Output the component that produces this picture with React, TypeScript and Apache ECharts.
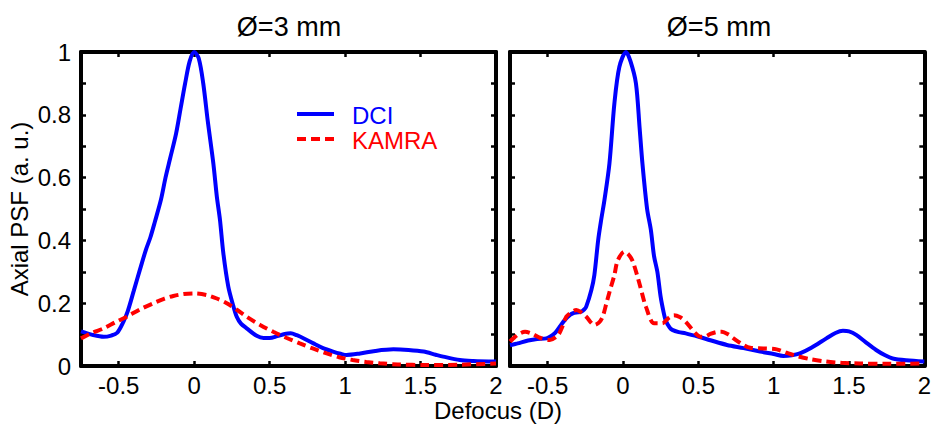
import React, { useEffect, useRef } from "react";
import * as echarts from "echarts";

const FONT = '"Liberation Sans", Arial, Helvetica, sans-serif';

const panelTitles = ["Ø=3 mm", "Ø=5 mm"];
const seriesNames = ["DCI", "KAMRA"];
const xTickValues = [-0.5, 0, 0.5, 1, 1.5, 2];
const yLabelValues = [0, 0.2, 0.4, 0.6, 0.8, 1];
const yTickValues = [0.1, 0.2, 0.3, 0.4, 0.5, 0.6, 0.7, 0.8, 0.9];
const xAxisName = "Defocus (D)";
const yAxisName = "Axial PSF (a. u.)";

// Ø=3 mm panel
const dci3 = [
  [-0.75, 0.11], [-0.68, 0.1], [-0.6, 0.093], [-0.55, 0.097], [-0.51, 0.106],
  [-0.47, 0.14], [-0.44, 0.175], [-0.4, 0.24], [-0.36, 0.306], [-0.32, 0.37],
  [-0.29, 0.41], [-0.26, 0.46], [-0.22, 0.53], [-0.19, 0.6], [-0.16, 0.66],
  [-0.12, 0.74], [-0.09, 0.82], [-0.06, 0.9], [-0.03, 0.97], [0, 1.0],
  [0.03, 0.98], [0.06, 0.9], [0.09, 0.78], [0.127, 0.645], [0.15, 0.54],
  [0.171, 0.465], [0.193, 0.36], [0.226, 0.253], [0.26, 0.19], [0.282, 0.157],
  [0.31, 0.135], [0.348, 0.12], [0.414, 0.096], [0.46, 0.089], [0.5, 0.089],
  [0.55, 0.095], [0.6, 0.102], [0.64, 0.104], [0.68, 0.098], [0.73, 0.087],
  [0.79, 0.072], [0.85, 0.058], [0.92, 0.046], [0.97, 0.039], [1.01, 0.035],
  [1.1, 0.04], [1.2, 0.048], [1.32, 0.053], [1.42, 0.051], [1.52, 0.046],
  [1.6, 0.036], [1.65, 0.03], [1.76, 0.019], [1.85, 0.016], [2.0, 0.014],
];
const kamra3 = [
  [-0.75, 0.088], [-0.68, 0.105], [-0.6, 0.12], [-0.52, 0.14], [-0.447, 0.157],
  [-0.36, 0.18], [-0.27, 0.2], [-0.2, 0.214], [-0.138, 0.223], [-0.07, 0.229],
  [0, 0.231], [0.083, 0.226], [0.15, 0.215], [0.216, 0.2], [0.28, 0.18],
  [0.348, 0.157], [0.44, 0.13], [0.524, 0.109], [0.61, 0.09], [0.7, 0.072],
  [0.79, 0.055], [0.878, 0.04], [0.96, 0.028], [1.05, 0.019], [1.14, 0.013],
  [1.23, 0.0085], [1.35, 0.005], [1.54, 0.003], [1.75, 0.004], [2.0, 0.008],
];

// Ø=5 mm panel
const dci5 = [
  [-0.75, 0.066], [-0.7, 0.072], [-0.63, 0.081], [-0.57, 0.086], [-0.508, 0.088],
  [-0.453, 0.104], [-0.42, 0.125], [-0.387, 0.146], [-0.35, 0.163], [-0.332, 0.168],
  [-0.3, 0.171], [-0.277, 0.173], [-0.258, 0.18], [-0.244, 0.189], [-0.21, 0.242],
  [-0.19, 0.29], [-0.165, 0.4], [-0.145, 0.465], [-0.123, 0.529], [-0.09, 0.645],
  [-0.057, 0.837], [-0.024, 0.953], [0.02, 1.0], [0.05, 0.97], [0.086, 0.9],
  [0.11, 0.76], [0.129, 0.645], [0.16, 0.5], [0.185, 0.433], [0.206, 0.35],
  [0.228, 0.3], [0.25, 0.22], [0.27, 0.17], [0.283, 0.146], [0.31, 0.122],
  [0.327, 0.115], [0.37, 0.108], [0.416, 0.104], [0.503, 0.093], [0.58, 0.082],
  [0.69, 0.067], [0.8, 0.057], [0.91, 0.046], [1.0, 0.038], [1.064, 0.032],
  [1.12, 0.034], [1.174, 0.04], [1.25, 0.058], [1.35, 0.088], [1.41, 0.105],
  [1.46, 0.112], [1.5, 0.11], [1.548, 0.099], [1.61, 0.076], [1.68, 0.051],
  [1.74, 0.034], [1.79, 0.024], [1.88, 0.018], [2.0, 0.014],
];
const kamra5 = [
  [-0.75, 0.078], [-0.728, 0.088], [-0.69, 0.102], [-0.65, 0.109], [-0.6, 0.102],
  [-0.552, 0.09], [-0.486, 0.083], [-0.43, 0.099], [-0.4, 0.128], [-0.376, 0.157],
  [-0.34, 0.172], [-0.31, 0.178], [-0.275, 0.17], [-0.244, 0.157], [-0.19, 0.131],
  [-0.16, 0.138], [-0.135, 0.157], [-0.11, 0.2], [-0.09, 0.235], [-0.057, 0.29],
  [-0.036, 0.335], [0.009, 0.364], [0.035, 0.356], [0.063, 0.335], [0.096, 0.285],
  [0.119, 0.245], [0.152, 0.189], [0.206, 0.136], [0.261, 0.136], [0.3, 0.152],
  [0.338, 0.162], [0.38, 0.155], [0.416, 0.141], [0.481, 0.104], [0.514, 0.093],
  [0.55, 0.095], [0.58, 0.102], [0.62, 0.108], [0.657, 0.109], [0.7, 0.1],
  [0.734, 0.088], [0.79, 0.07], [0.844, 0.058], [0.93, 0.056], [1.02, 0.053],
  [1.08, 0.043], [1.13, 0.035], [1.24, 0.022], [1.35, 0.014], [1.45, 0.01],
  [1.57, 0.008], [1.75, 0.007], [2.0, 0.008],
];

const BLUE = "#0000ff";
const RED = "#ff0000";

const grids = [
  { left: 81, top: 52, width: 415, height: 314 },
  { left: 510, top: 52, width: 417, height: 314 },
];

export default function App() {
  const ref = useRef<HTMLDivElement>(null);

  useEffect(() => {
    if (!ref.current) return;
    const chart = echarts.init(ref.current, null, { renderer: "svg" });

    const mkAxisLine = () => ({ show: true, onZero: false, lineStyle: { color: "#000", width: 4 } });
    const tickStyle = { color: "#000", width: 2.5 };

    const xAxes: any[] = [];
    const yAxes: any[] = [];
    [0, 1].forEach((g) => {
      ["bottom", "top"].forEach((pos) => {
        xAxes.push({
          gridIndex: g,
          type: "value",
          min: -0.75,
          max: 2,
          position: pos,
          axisLine: mkAxisLine(),
          splitLine: { show: false },
          axisTick: {
            show: true,
            inside: true,
            length: 5,
            lineStyle: tickStyle,
            customValues: xTickValues.slice(0, 5),
          },
          axisLabel: {
            show: pos === "bottom",
            customValues: xTickValues,
            fontSize: 24,
            fontFamily: FONT,
            color: "#000",
            margin: 7,
          },
        });
      });
      ["left", "right"].forEach((pos) => {
        yAxes.push({
          gridIndex: g,
          type: "value",
          min: 0,
          max: 1,
          position: pos,
          axisLine: mkAxisLine(),
          splitLine: { show: false },
          axisTick: {
            show: true,
            inside: true,
            length: 5,
            lineStyle: tickStyle,
            customValues: yTickValues,
          },
          axisLabel: {
            show: g === 0 && pos === "left",
            customValues: yLabelValues,
            fontSize: 24,
            fontFamily: FONT,
            color: "#000",
            margin: 10,
          },
        });
      });
    });

    const panelData = [
      [dci3, kamra3],
      [dci5, kamra5],
    ];
    const series: any[] = [];
    panelData.forEach((pair, g) => {
      pair.forEach((data, k) => {
        series.push({
          name: seriesNames[k],
          type: "line",
          xAxisIndex: g * 2,
          yAxisIndex: g * 2,
          data,
          smooth: 0.3,
          showSymbol: false,
          symbol: "none",
          z: k === 0 ? 3 : 4,
          lineStyle: {
            color: k === 0 ? BLUE : RED,
            width: 4,
            type: k === 0 ? "solid" : [9, 5],
          },
        });
      });
    });

    const textStyle = (extra: any) => ({
      fontFamily: FONT,
      fill: "#000",
      ...extra,
    });

    const graphic: any[] = [
      {
        type: "text",
        x: 289,
        y: 27,
        style: textStyle({ text: panelTitles[0], fontSize: 27, align: "center", verticalAlign: "middle" }),
      },
      {
        type: "text",
        x: 719,
        y: 27,
        style: textStyle({ text: panelTitles[1], fontSize: 27, align: "center", verticalAlign: "middle" }),
      },
      {
        type: "text",
        x: 498,
        y: 410,
        style: textStyle({ text: xAxisName, fontSize: 24, align: "center", verticalAlign: "middle" }),
      },
      {
        type: "text",
        x: 19,
        y: 209,
        rotation: Math.PI / 2,
        style: textStyle({ text: yAxisName, fontSize: 24, align: "center", verticalAlign: "middle" }),
      },
      {
        type: "line",
        shape: { x1: 297, y1: 114, x2: 334, y2: 114 },
        style: { stroke: BLUE, lineWidth: 4 },
      },
      {
        type: "line",
        shape: { x1: 297, y1: 139, x2: 334, y2: 139 },
        style: { stroke: RED, lineWidth: 4, lineDash: [9, 5] },
      },
      {
        type: "text",
        x: 352,
        y: 115,
        style: textStyle({ text: seriesNames[0], fontSize: 24, fill: BLUE, align: "left", verticalAlign: "middle" }),
      },
      {
        type: "text",
        x: 352,
        y: 140,
        style: textStyle({ text: seriesNames[1], fontSize: 24, fill: RED, align: "left", verticalAlign: "middle" }),
      },
    ];

    chart.setOption({
      animation: false,
      backgroundColor: "#ffffff",
      grid: grids,
      xAxis: xAxes,
      yAxis: yAxes,
      series,
      graphic,
    });

    return () => chart.dispose();
  }, []);

  return (
    <div
      ref={ref}
      style={{ position: "fixed", left: 0, top: 0, width: 934, height: 427, background: "#fff" }}
    />
  );
}
